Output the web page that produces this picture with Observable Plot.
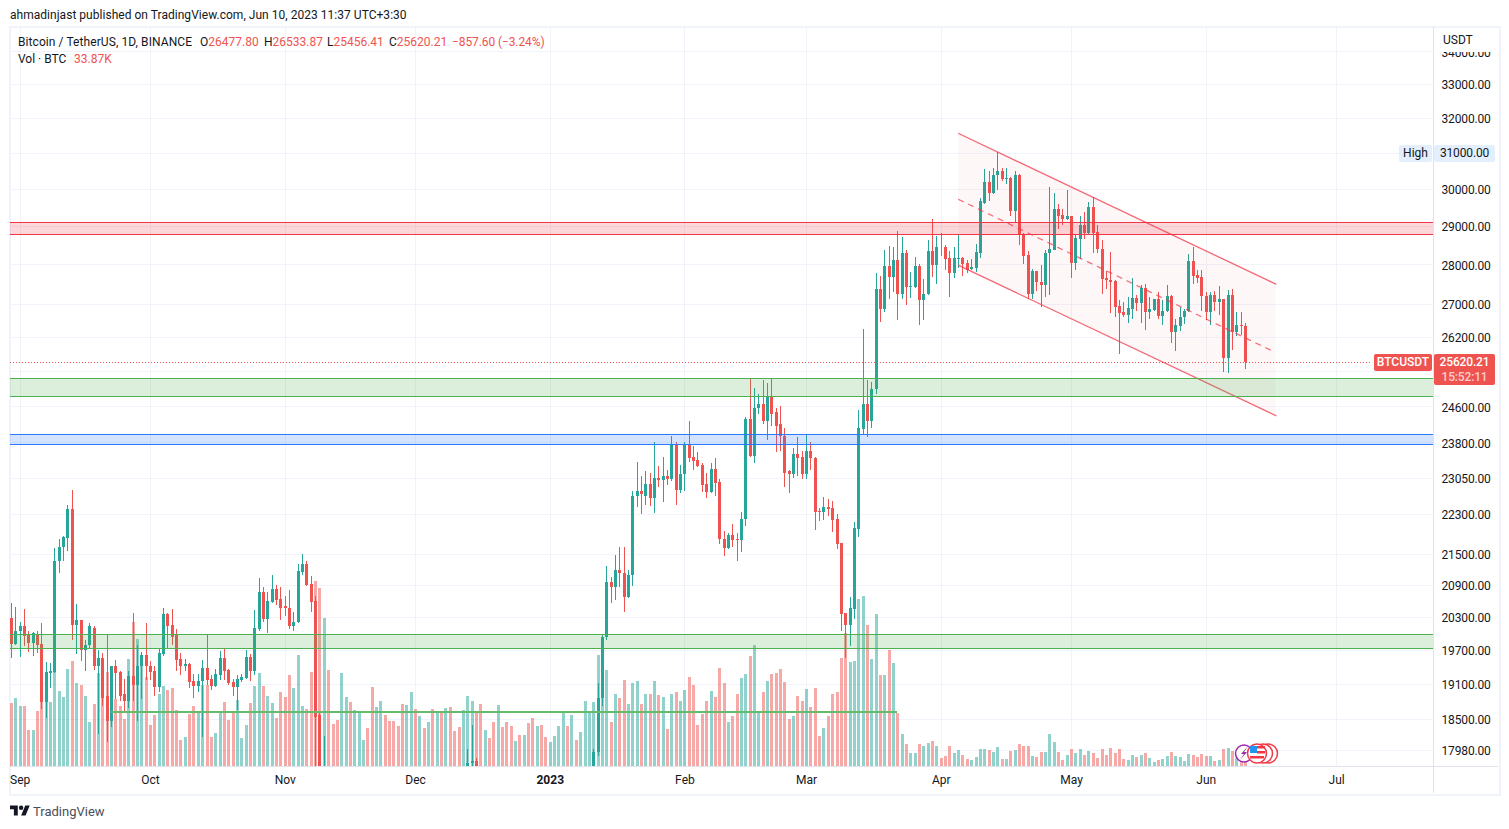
<!DOCTYPE html>
<html>
<head>
<meta charset="utf-8">
<script src="https://cdn.jsdelivr.net/npm/d3@7"></script>
<script src="https://cdn.jsdelivr.net/npm/@observablehq/plot@0.6"></script>
<style>
  html,body{margin:0;padding:0;background:#fff;}
  #page{position:relative;width:1509px;height:829px;overflow:hidden;font-family:Roboto,sans-serif;font-size:12px;color:#131722;}
  #page .t{position:absolute;white-space:nowrap;line-height:16px;}
  .red{color:#ef5350;}
  #chart{position:absolute;left:9px;top:27px;}
  .box{position:absolute;}
</style>
</head>
<body>
<div id="page">
  <div class="box" style="left:9px;top:26px;width:1488px;height:766px;border:2px solid #f0f3fa;"></div>
  <div class="box" style="left:1433px;top:27px;width:1px;height:766px;background:#e0e3eb;"></div>
  <div class="box" style="left:10px;top:766px;width:1488px;height:1px;background:#e0e3eb;"></div>
  <div id="chart"></div>

  <div class="t" style="left:10px;top:7px;letter-spacing:.03px;">ahmadinjast published on TradingView.com, Jun 10, 2023 11:37 UTC+3:30</div>

  <div class="t" style="left:18px;top:34px;letter-spacing:.08px;">Bitcoin / TetherUS, 1D, BINANCE</div>
  <div class="t" style="left:200px;top:34px;">O<span class="red">26477.80</span></div>
  <div class="t" style="left:264px;top:34px;">H<span class="red">26533.87</span></div>
  <div class="t" style="left:327px;top:34px;">L<span class="red">25456.41</span></div>
  <div class="t" style="left:389px;top:34px;">C<span class="red">25620.21</span></div>
  <div class="t red" style="left:452px;top:34px;letter-spacing:-.1px;">−857.60 (−3.24%)</div>
  <div class="t" style="left:18px;top:51px;">Vol · BTC</div>
  <div class="t red" style="left:74px;top:51px;">33.87K</div>

  <div class="box" style="left:1434px;top:28px;width:63px;height:24px;background:#fff;"></div>
  <div class="t" style="left:1443px;top:34px;line-height:13px;">USDT</div>

  <div class="box t" style="left:1399px;top:145px;width:33px;height:17px;background:#e3effd;border-radius:2px;text-align:center;line-height:16px;">High</div>
  <div class="box t" style="left:1434px;top:145px;width:61px;height:17px;background:#e3effd;border-radius:2px;text-align:center;line-height:17px;letter-spacing:-.15px;">31000.00</div>

  <div class="box t" style="left:1374px;top:354px;width:58px;height:17px;background:#ef5350;border-radius:2px;color:#fff;font-weight:500;text-align:center;line-height:17px;">BTCUSDT</div>
  <div class="box" style="left:1434px;top:354px;width:61px;height:31px;background:#ef5350;border-radius:2px;color:#fff;text-align:center;font-weight:500;line-height:15px;letter-spacing:-.15px;">
    <div style="margin-top:1px;">25620.21</div><div style="color:rgba(255,255,255,.72);">15:52:11</div>
  </div>

  <svg class="box" style="left:1232px;top:740px;" width="50" height="28" viewBox="1232 740 50 28">
    <circle cx="1244" cy="753.5" r="8.5" fill="#fff" stroke="#9c27b0" stroke-width="1.5"/>
    <path d="M1248 746l-7 8h3l-4 6 7-8h-3z" fill="#9c27b0"/>
    <circle cx="1268" cy="753.5" r="9.5" fill="#fff" stroke="#f23645" stroke-width="1.5"/>
    <circle cx="1263" cy="753.5" r="9.5" fill="#fff" stroke="#f23645" stroke-width="1.5"/>
    <circle cx="1257" cy="753.5" r="9.5" fill="#fff" stroke="#f23645" stroke-width="1.5"/>
    <rect x="1250" y="746" width="7" height="7" fill="#2196f3"/>
    <rect x="1257" y="746" width="8" height="2.5" fill="#f23645"/>
    <rect x="1257" y="751" width="8" height="2.5" fill="#f23645"/>
    <rect x="1250" y="756" width="14" height="2.5" fill="#f23645"/>
  </svg>

  <svg class="box" style="left:10px;top:803px;" width="20" height="16" viewBox="0 0 36 28" fill="#131722">
    <path d="M14 22H7V11H0V4h14v18zM28 22h-8l7.5-18h8L28 22z"/><circle cx="20" cy="8" r="4"/>
  </svg>
  <div class="t" style="left:33px;top:804px;font-size:13px;color:#4a4e59;">TradingView</div>
</div>

<script>
// Daily candles that are visible inside the price window (others sit below the bottom edge).
const opens = [
  20285,19800,
  20035,20140,19960,19820,19995,19800,18785,19280,19300,21355,21630,21805,22390,20160,20235,19690,19780,20105,19405,19545,18880,18455,19405,19300,18930,18795,19230,19070,19405,19600,
  19420,19315,19035,19620,20345,20160,19960,19530,19405,19440,19140,19055,19140,19385,19175,19055,19245,19545,19335,19125,19035,19160,19195,19580,19315,20070,20775,20270,20570,20815,20625,
  20495,20470,20140,20200,21140,21295,20910,20590,18555,15900,
  17200,17775,17805,
  17440,17945,18845,19925,20950,20855,21180,21135,20665,21085,22675,22780,22675,22925,22615,23050,22990,23075,23010,23735,22800,
  23120,23735,23495,23430,23325,22925,22740,23240,22965,21800,21610,21865,21785,21770,22190,24325,23500,24550,24640,24260,24820,24460,24195,23950,23180,23135,23560,23495,
  23115,23625,23475,22350,22330,22430,22410,22205,21720,20365,20145,20440,21985,24085,24660,24260,25000,27385,26890,27965,27685,28095,27240,28300,27435,27435,27965,27090,27240,28350,27990,
  28455,28455,28170,27765,28145,28170,28040,27890,27915,28300,29620,30190,29865,30380,30470,30275,30300,29405,30385,28795,28245,27240,27815,27560,27485,28275,28375,29455,29295,29190,
  29245,28040,28640,29030,28820,29510,28845,28400,27660,27610,27585,26965,26795,26745,26890,27160,27015,27410,26795,26865,27115,26720,26820,27210,26310,26475,26695,26840,28070,27735,27685,
  27210,26795,27235,27040,27115,25695,27235,26310,26500,26477.80
];
const highs = [
  20560,20490,
  20215,20440,20050,20020,20050,20180,19480,19460,21610,21800,21860,22490,22800,20545,20240,19870,20190,20125,19690,19635,19960,19410,19510,19320,19175,19315,20375,19795,19655,20180,
  19495,19405,19710,20470,20365,20450,20070,19635,19530,19460,19265,19265,19510,19960,19245,19350,19670,19710,19350,19175,19245,19265,19690,19620,20420,21025,20870,20775,21085,20890,20855,
  20700,20795,20400,21295,21490,21370,21065,20700,18590,18215,
  18000,18390,17855,
  18005,19120,19980,21255,21045,21470,21645,21645,21195,22760,23370,23075,23180,23155,23820,23285,23495,23200,23950,23800,23325,
  23820,24260,23715,23585,23350,23155,23350,23455,23010,21945,21905,22085,21905,22330,24370,25230,25020,24885,25185,25115,25230,24570,24595,24125,23220,23690,23910,23605,
  23975,23800,23480,22410,22655,22595,22555,22290,21725,20370,20680,22145,24505,26405,25205,25160,27765,27710,28375,28470,28430,28870,28715,28375,27790,28195,28010,27635,28635,29190,28740,
  28820,28505,28350,28455,28770,28175,28095,28145,28530,29755,30550,30495,30580,31030,30580,30580,30305,30470,30410,28800,28350,27890,27820,27990,28375,30035,29890,29590,29455,29970,
  29270,28770,29270,29375,29645,29780,29030,28635,27815,28325,27610,27090,27040,27185,27660,27235,27485,27510,27185,27135,27310,27090,27485,27215,26625,26940,26890,28250,28455,27840,27840,
  27310,27310,27335,27460,27135,27360,27385,26815,26795,26533.87
];
const lows = [
  19545,19790,
  19570,19765,19660,19590,19635,18660,18505,19020,19290,21125,21355,21550,19870,19620,19495,19315,19735,19335,18240,18715,18120,18355,18830,18810,18630,18690,18810,18470,18840,19160,
  19160,18880,18965,19590,19725,19795,19315,19245,19315,19020,18860,18965,18190,19070,18985,19050,19160,19160,19070,18895,18655,19125,19190,19140,19245,20050,20215,20000,20550,20515,20235,
  20325,20070,20035,20180,21085,20885,20400,17150,15600,15800,
  17100,17660,17275,
  17320,17890,18710,19885,20550,20610,20855,20400,20660,20875,22430,22290,22490,22470,22310,22845,22535,22885,22970,22490,22720,
  22760,23370,23200,23265,22740,22635,22735,22675,21700,21455,21605,21630,21355,21530,22045,23490,23350,24435,24195,23845,24150,23585,23605,22845,22720,23050,23075,23030,
  23030,23200,21965,22165,22185,22265,21925,21600,20050,19545,19760,20270,21825,23995,23910,24125,24885,26575,26795,27115,27310,26600,27115,26990,27160,27410,26500,26620,27235,27685,27510,
  28220,27865,27185,27660,27915,27710,27765,27840,27790,28170,29590,29650,29860,29970,30220,30135,29245,29110,28505,28015,27115,27115,27335,26940,27185,27235,28370,28905,29030,29165,
  27660,27865,28145,28660,28765,28300,28300,27260,27365,26770,26695,25810,26695,26550,26645,26840,26550,26370,26625,26840,26645,26500,26795,26070,25880,26335,26525,26795,27510,27535,26840,
  26600,26500,26820,26745,25390,25345,25905,26215,26260,25456.41
];
const closes = [
  19800,20050,
  20140,19950,19815,20000,19780,18785,19300,19315,21355,21640,21825,22390,20160,20235,19690,19795,20125,19405,19545,18860,18455,19405,19280,18895,18795,19230,19070,19420,19600,19405,
  19300,19035,19635,20345,20140,19940,19510,19405,19440,19125,19055,19155,19385,19160,19055,19265,19545,19315,19105,19035,19175,19210,19580,19315,20090,20775,20270,20590,20815,20610,20470,
  20470,20140,20215,21160,21295,20890,20570,18530,15900,17600,
  17775,17805,17360,
  17945,18845,19925,20950,20855,21180,21120,20665,21085,22675,22780,22700,22925,22615,23050,22990,23075,23010,23735,22800,23135,
  23735,23475,23410,23305,22905,22740,23240,22945,21800,21610,21865,21770,21770,22205,24325,23500,24570,24640,24260,24820,24435,24170,23930,23155,23135,23560,23475,23115,
  23625,23455,22330,22330,22430,22390,22185,21700,20345,20145,20460,22005,24105,24660,24260,25000,27385,26890,27965,27685,28095,27240,28300,27435,27450,27965,27090,27260,28350,27990,28455,
  28430,28145,27765,28170,28170,28015,27865,27940,28325,29650,30190,29865,30385,30470,30275,30300,29405,30385,28795,28220,27240,27815,27560,27485,28300,28400,29455,29270,29190,29245,
  28040,28665,29030,28820,29510,28820,28400,27635,27610,27560,26940,26770,26745,26915,27160,27015,27410,26795,26890,27115,26720,26840,27210,26310,26480,26695,26840,28070,27710,27660,27190,
  26795,27235,27040,27115,25695,27235,26310,26500,26455,25620.21
];

// Daily volume in thousand BTC, Aug 30 2022 to Jun 10 2023, every day.
const volumes = [
  252,272,
  240,240,144,144,220,348,292,256,420,300,276,388,420,332,324,280,176,248,372,400,376,264,268,240,188,428,576,508,400,356,
  164,204,288,320,304,312,224,104,116,208,240,212,324,324,116,132,216,256,184,216,264,112,164,252,320,372,320,280,252,192,296,
  276,364,312,444,240,228,376,740,712,592,384,168,184,372,276,256,224,212,104,152,316,236,260,204,180,180,160,248,244,296,
  228,200,152,176,228,212,212,232,236,140,156,224,280,260,212,248,144,112,176,244,156,176,160,100,124,124,172,192,160,164,116,
  96,120,160,212,160,204,104,136,260,216,256,444,400,384,176,288,272,344,248,332,340,248,288,288,340,284,276,148,288,296,260,
  304,356,324,164,208,260,300,276,392,332,176,200,288,352,368,440,484,216,296,340,368,372,388,336,188,200,280,260,
  308,236,312,120,152,200,288,296,432,532,416,420,668,680,564,428,608,364,364,464,412,212,128,88,52,52,88,80,92,100,80,
  32,40,80,52,64,44,28,24,36,68,68,64,56,76,28,28,60,64,88,80,80,40,36,56,56,128,96,56,24,44,
  68,52,68,44,60,52,32,68,44,72,52,68,28,24,44,36,44,52,32,16,24,28,40,56,40,36,20,48,44,36,48,
  40,40,20,24,68,72,60,32,24,33.87
];
const volumeDirections = "rg"
  + "grrgrrggggggrgrggrgrrgrrrgrggr"
  + "rrggrrrrgrrggrrggrrrgggrggrggrr"
  + "rrgggrrrrgrrrggrgggrrggrrrrrgg"
  + "rgrgrgrgrrrgggrrgrrgrrrgrgrrgrr"
  + "ggggrgrgggggggrgrrgggrgrgrgrgrg"
  + "grrrrrgrrrgrrggrggrgrrrrrgrr"
  + "grrrgrrrrrggggrggrgrgrgrggrggrg"
  + "rrrggrrggggrggrgrgrrrgrrgggrrg"
  + "rggrgrrrrrrrrggrgrggrggrggggrrr"
  + "rgrgrgrgrr";

// Price axis
const gridPrices = [34000,33000,32000,31000,30000,29000,28000,27000,26200,25400,24600,23800,23050,22300,21500,20900,20300,19700,19100,18500,17980];
const axisPrices = [34000,33000,32000,30000,29000,28000,27000,26200,24600,23800,23050,22300,21500,20900,20300,19700,19100,18500,17980];
const lastPrice = 25620.21;

// Time axis
const monthNames = ["Sep","Oct","Nov","Dec","2023","Feb","Mar","Apr","May","Jun","Jul"];
const monthDates = ["2022-09-01","2022-10-01","2022-11-01","2022-12-01","2023-01-01","2023-02-01","2023-03-01","2023-04-01","2023-05-01","2023-06-01","2023-07-01"].map(d => new Date(d));

// Horizontal zones drawn on the chart
const zoneLows   = [28781, 24829, 23765, 19731];
const zoneHighs  = [29098, 25240, 23983, 19984];
const zoneColors = ["#f23645", "#4caf50", "#2979ff", "#4caf50"];
const supportPrice = 18615;
const supportDates = [new Date("2022-09-22"), new Date("2023-03-22")];

// Descending channel
const channelDates = [new Date("2023-04-05"), new Date("2023-06-17")];
const channelUpper = [31558, 27510];
const channelMiddle = [29716, 25892];
const channelLower = [27981, 24400];

// Scales
const xDomain = [new Date("2022-08-29T18:30:00Z"), new Date("2023-07-23T07:00:00Z")];
const yDomain = [17720, 34729];
const volumeScaleMax = 2952;
const volumeToPrice = v => yDomain[0] * Math.pow(yDomain[1] / yDomain[0], v / volumeScaleMax);

// Assemble
const up = "#26a69a", down = "#ef5350";
const candleDates = [
  ...d3.utcDay.range(new Date("2022-08-30"), new Date("2022-11-11")),
  ...d3.utcDay.range(new Date("2022-12-13"), new Date("2022-12-16")),
  ...d3.utcDay.range(new Date("2023-01-11"), new Date("2023-06-11"))
];
const candles = candleDates.map((date, i) => ({date, open: opens[i], high: highs[i], low: lows[i], close: closes[i]}));
const volumeDates = d3.utcDay.range(new Date("2022-08-30"), new Date("2023-06-11"));
const bars = volumeDates.map((date, i) => ({date, volume: volumes[i], dir: volumeDirections[i]}));

const rising = candles.filter(d => d.close >= d.open);
const falling = candles.filter(d => d.close < d.open);
const zones = zoneLows.map((low, i) => ({low, high: zoneHighs[i], color: zoneColors[i]}));
const channel = channelDates.map((date, i) => ({date, upper: channelUpper[i], middle: channelMiddle[i], lower: channelLower[i]}));
const crisp = {shapeRendering: "crispEdges"};

const chart = Plot.plot({
  width: 1491,
  height: 768,
  marginLeft: 1,
  marginRight: 67,
  marginTop: 1,
  marginBottom: 29,
  style: {background: "transparent", fontFamily: "Roboto, sans-serif", fontSize: "12px", color: "#131722", overflow: "visible"},
  x: {type: "utc", domain: xDomain},
  y: {type: "log", domain: yDomain},
  marks: [
    Plot.ruleY(gridPrices, {y: d => d, stroke: "#f0f3fa", ...crisp}),
    Plot.ruleX(monthDates, {x: d => d, stroke: "#f0f3fa", ...crisp}),

    Plot.ruleX(bars.filter(d => d.dir === "g"), {x: "date", y1: yDomain[0], y2: d => volumeToPrice(d.volume), stroke: up, strokeOpacity: 0.5, strokeWidth: 3, ...crisp}),
    Plot.ruleX(bars.filter(d => d.dir === "r"), {x: "date", y1: yDomain[0], y2: d => volumeToPrice(d.volume), stroke: down, strokeOpacity: 0.5, strokeWidth: 3, ...crisp}),

    Plot.ruleX(rising, {x: "date", y1: "low", y2: "high", stroke: up, strokeWidth: 1, clip: true, ...crisp}),
    Plot.ruleX(falling, {x: "date", y1: "low", y2: "high", stroke: down, strokeWidth: 1, clip: true, ...crisp}),
    Plot.ruleX(rising, {x: "date", y1: "open", y2: "close", stroke: up, strokeWidth: 3, clip: true, ...crisp}),
    Plot.ruleX(falling, {x: "date", y1: "open", y2: "close", stroke: down, strokeWidth: 3, clip: true, ...crisp}),

    Plot.ruleY([lastPrice], {y: d => d, x1: xDomain[0], x2: new Date("2023-07-09"), stroke: down, strokeDasharray: "1,2", ...crisp}),

    Plot.areaY(channel, {x: "date", y1: "lower", y2: "upper", fill: "#f23645", fillOpacity: 0.04}),
    Plot.line(channel, {x: "date", y: "upper", stroke: "#f23645", strokeOpacity: 0.75, strokeWidth: 1.3}),
    Plot.line(channel, {x: "date", y: "lower", stroke: "#f23645", strokeOpacity: 0.75, strokeWidth: 1.3}),
    Plot.line(channel.map((d, i) => i ? {...d, date: new Date("2023-06-16")} : d), {x: "date", y: "middle", stroke: "#f23645", strokeOpacity: 0.7, strokeWidth: 1.3, strokeDasharray: "5,6"}),

    Plot.rect(zones, {x1: xDomain[0], x2: xDomain[1], y1: "low", y2: "high", fill: "color", fillOpacity: 0.2}),
    Plot.ruleY(zones, {y: "low", stroke: "color", strokeWidth: 1, ...crisp}),
    Plot.ruleY(zones, {y: "high", stroke: "color", strokeWidth: 1, ...crisp}),
    Plot.ruleY([supportPrice], {y: d => d, x1: supportDates[0], x2: supportDates[1], stroke: "#66bb6a", strokeWidth: 2, ...crisp}),

    Plot.axisY(axisPrices, {anchor: "right", label: null, tickSize: 0, tickPadding: 8, dy: 1, tickFormat: d => d.toFixed(2), fontSize: 12, fill: "#131722"}),
    Plot.axisX(monthDates, {anchor: "bottom", label: null, tickSize: 0, tickPadding: 9, tickFormat: d => monthNames[monthDates.findIndex(m => +m === +d)], fontSize: 12, fill: "#131722"})
  ]
});
d3.select(chart).selectAll("text").filter(function () { return this.textContent === "2023"; }).attr("font-weight", "bold");
d3.select(chart).selectAll("text").filter(function () { return /^\d+\.00$/.test(this.textContent); }).style("letter-spacing", "-0.15px");
document.getElementById("chart").appendChild(chart);
</script>
</body>
</html>
